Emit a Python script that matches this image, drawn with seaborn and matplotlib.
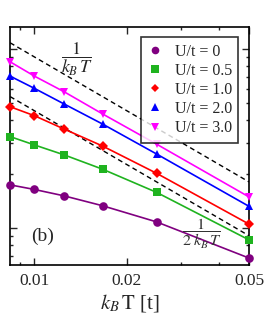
import numpy as np
import pandas as pd
import matplotlib
matplotlib.use("Agg")
import matplotlib.pyplot as plt
from matplotlib.lines import Line2D
from matplotlib.ticker import FixedLocator, NullFormatter, FixedFormatter, LogLocator
import seaborn as sns

# temperatures k_B T [t]  (beta = 120, 100, 80, 60, 40, 20)
temps = [1 / 120, 1 / 100, 1 / 80, 1 / 60, 1 / 40, 1 / 20]

u_labels = ["U/t = 0", "U/t = 0.5", "U/t = 1.0", "U/t = 2.0", "U/t = 3.0"]
u0 = [17.4, 16.4, 15.1, 13.3, 10.8, 6.78]
u05 = [32.4, 29.1, 25.6, 21.3, 15.8, 8.57]
u10 = [47.6, 42.4, 35.7, 28.7, 20.2, 10.5]
u20 = [70.6, 60.3, 49.3, 38.1, 25.9, 13.2]
u30 = [84.9, 70.6, 57.7, 43.4, 29.4, 14.9]

colors = ["#800080", "#1fb31f", "#ff0000", "#0000ff", "#ff00ff"]
markers = ["o", "s", "D", "^", "v"]

# Curie-like guide lines  C/(k_B T)
curie_c = 0.904
guide_t = [1 / 120, 1 / 20]

sns.set_style("ticks")
plt.rcParams["font.family"] = ["Liberation Serif", "DejaVu Serif"]
plt.rcParams["mathtext.fontset"] = "stix"

fig = plt.figure(figsize=(2.66, 3.23), dpi=100)
ax = fig.add_axes([0.038, 0.180, 0.898, 0.736])

rows = []
for lab, vals in zip(u_labels, [u0, u05, u10, u20, u30]):
    for t, v in zip(temps, vals):
        rows.append({"T": t, "chi": v, "U": lab})
df = pd.DataFrame(rows)

for lab, col, mk in zip(u_labels, colors, markers):
    sub = df[df["U"] == lab]
    ms = 5.5 if mk == "D" else 6.2
    sns.lineplot(data=sub, x="T", y="chi", color=col, marker=mk, markersize=ms,
                 markeredgewidth=0, linewidth=1.2, ax=ax, legend=False, clip_on=False,
                 zorder=3)

gt = np.array(guide_t)
ax.plot(gt, curie_c / gt, color="black", linestyle=(0, (3.5, 2.5)), linewidth=1.0, zorder=2)
ax.plot(gt, curie_c / (2 * gt), color="black", linestyle=(0, (3.5, 2.5)), linewidth=1.0, zorder=2)

ax.set_xscale("log")
ax.set_yscale("log")
ax.set_xlim(1 / 120, 0.05)
ax.set_ylim(6.21, 132.7)

ax.xaxis.set_major_locator(FixedLocator([0.01, 0.02, 0.05]))
ax.xaxis.set_major_formatter(FixedFormatter(["0.01", "0.02", "0.05"]))
ax.xaxis.set_minor_locator(FixedLocator([0.009, 0.03, 0.04]))
ax.xaxis.set_minor_formatter(NullFormatter())
ax.yaxis.set_major_locator(LogLocator(base=10))
ax.yaxis.set_minor_locator(LogLocator(base=10, subs=np.arange(2, 10)))
ax.yaxis.set_major_formatter(NullFormatter())
ax.yaxis.set_minor_formatter(NullFormatter())

ax.tick_params(which="both", direction="in", top=True, right=True, width=1.0,
               labelsize=12.5, pad=6)
ax.tick_params(which="major", length=5)
ax.tick_params(which="minor", length=2.5)
for s in ax.spines.values():
    s.set_linewidth(1.2)
    s.set_color("black")

ax.set_xlabel(r"$k_B\,\mathrm{T}$ [t]", fontsize=15, labelpad=2)
ax.set_ylabel("")

ax.text(0.28, 0.865, r"$\dfrac{1}{k_B\,T}$", transform=ax.transAxes, fontsize=13,
        ha="center", va="center")
ax.text(0.805, 0.13, r"$\dfrac{1}{2\;k_B\,T}$", transform=ax.transAxes, fontsize=11.5,
        ha="center", va="center", color="#333333")
ax.text(0.135, 0.12, "(b)", transform=ax.transAxes, fontsize=14, ha="center", va="center")

handles = [Line2D([], [], color=c, marker=m, linestyle="none",
                  markersize=(4.5 if m == "D" else 5.5), markeredgewidth=0)
           for c, m in zip(colors, markers)]
leg = ax.legend(handles, u_labels, loc="upper right", bbox_to_anchor=(0.955, 0.958),
                fontsize=11.5, frameon=True, fancybox=False, handlelength=1.0,
                handletextpad=0.7, borderpad=0.4, labelspacing=0.2, borderaxespad=0)
leg.get_frame().set_edgecolor("black")
leg.get_frame().set_linewidth(1.2)
leg.set_zorder(5)

fig.savefig("out.png", dpi=100)
